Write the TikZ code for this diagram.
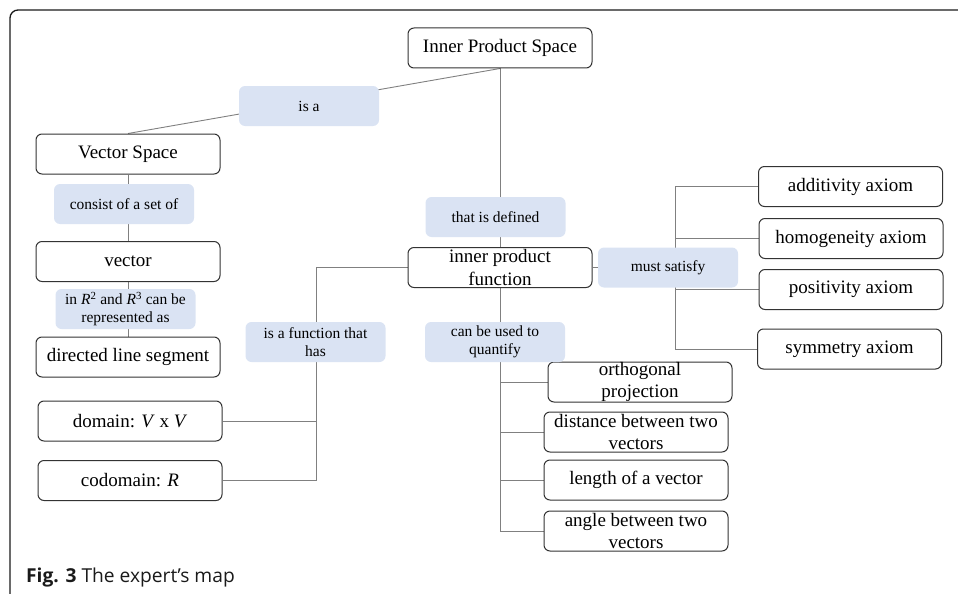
\documentclass[tikz,border=0pt]{standalone}
\usepackage{fontspec}
\setmainfont{Liberation Serif}
\newfontfamily\capfont{Open Sans}
\usetikzlibrary{calc}
\definecolor{lblue}{HTML}{DAE3F3}
\definecolor{boxc}{HTML}{333333}
\definecolor{linec}{HTML}{808080}
\definecolor{framec}{HTML}{1A1A1A}
\pgfdeclarelayer{bg}
\pgfsetlayers{bg,main}
\begin{document}
\begin{tikzpicture}[x=1pt,y=-1pt,
  box/.style={draw=boxc, line width=1pt, rounded corners=6pt, minimum width=184pt, minimum height=40pt, inner sep=0pt, fill=white, font=\fontsize{19}{22.7}\selectfont},
  txt/.style={inner sep=0pt, align=center, font=\fontsize{19}{22.7}\selectfont},
  lbl/.style={fill=lblue, rounded corners=6pt, minimum width=140pt, minimum height=40pt, inner sep=0pt, align=center, font=\fontsize{15.5}{18.3}\selectfont},
  conn/.style={draw=linec, line width=0.9pt}]
\useasboundingbox (0,0) rectangle (958,594);
\clip (0,0) rectangle (958,594);
% frame
\draw[framec, line width=1.3pt, rounded corners=8pt] (10,620) -- (10,10) -- (990,10);

% main boxes
\node[box] (ips) at (500,48) {Inner Product Space};
\node[box] (vs) at (128,154) {Vector Space};
\node[box] (vec) at (128,261.5) {vector};
\node[box] (dls) at (128,357) {directed line segment};
\node[box] (dom) at (130,421) {domain: \textit{V} x \textit{V}};
\node[box] (cod) at (130,480.5) {codomain: \textit{R}};
\node[box] (ipf) at (500,267.5) {};
\node[txt] at (ipf.center) {inner product\\function};
\node[box] (add) at (850.5,186.5) {additivity axiom};
\node[box] (hom) at (851,238.5) {homogeneity axiom};
\node[box] (pos) at (851,289.5) {positivity axiom};
\node[box] (sym) at (849.5,349) {symmetry axiom};
\node[box] (orth) at (640,382) {};
\node[txt] at (orth.center) {orthogonal\\projection};
\node[box] (dist) at (636,432) {};
\node[txt] at (dist.center) {distance between two\\vectors};
\node[box] (len) at (636,480) {length of a vector};
\node[box] (ang) at (636,531) {};
\node[txt] at (ang.center) {angle between two\\vectors};

% linking labels
\node[lbl] (isa) at (309,106) {is a};
\node[lbl] (cons) at (124,204) {consist of a set of};
\node[lbl] (inr) at (125.5,309) {in \textit{R}\textsuperscript{2} and \textit{R}\textsuperscript{3} can be\\represented as};
\node[lbl] (fnhas) at (315.5,342) {is a function that\\has};
\node[lbl] (def) at (495.5,217) {that is defined};
\node[lbl] (ms) at (668,267.5) {must satisfy};
\node[lbl] (quant) at (495,342) {can be used to\\quantify};

% tree junctions
\coordinate (tl) at (316,267.5);
\coordinate (tr) at (675,267.5);
\coordinate (tb) at (500,267.5);

\begin{pgfonlayer}{bg}
\draw[conn] (ips.south) -- (vs.north);
\draw[conn] (ips.south) -- (ipf.north);
\draw[conn] (vs.south) -- (vec.north);
\draw[conn] (vec.south) -- (dls.north);
\draw[conn] (ipf.west) -- (tl) |- (cod.east);
\draw[conn] (tl |- dom.east) -- (dom.east);
\draw[conn] (ipf.east) -- (ms.west);
\draw[conn] (add.west) -- (tr |- add.west) -- (tr |- sym.west) -- (sym.west);
\draw[conn] (tr |- hom.west) -- (hom.west);
\draw[conn] (tr |- pos.west) -- (pos.west);
\draw[conn] (ipf.south) -- (tb |- ang.west) -- (ang.west);
\draw[conn] (tb |- orth.west) -- (orth.west);
\draw[conn] (tb |- dist.west) -- (dist.west);
\draw[conn] (tb |- len.west) -- (len.west);
\end{pgfonlayer}

% caption
\node[anchor=base west, inner sep=0pt, text=framec, font=\capfont\fontsize{19.2}{21}\selectfont] (cap) at (26,582) {\textbf{Fig. 3} The expert’s map};
\end{tikzpicture}
\end{document}
